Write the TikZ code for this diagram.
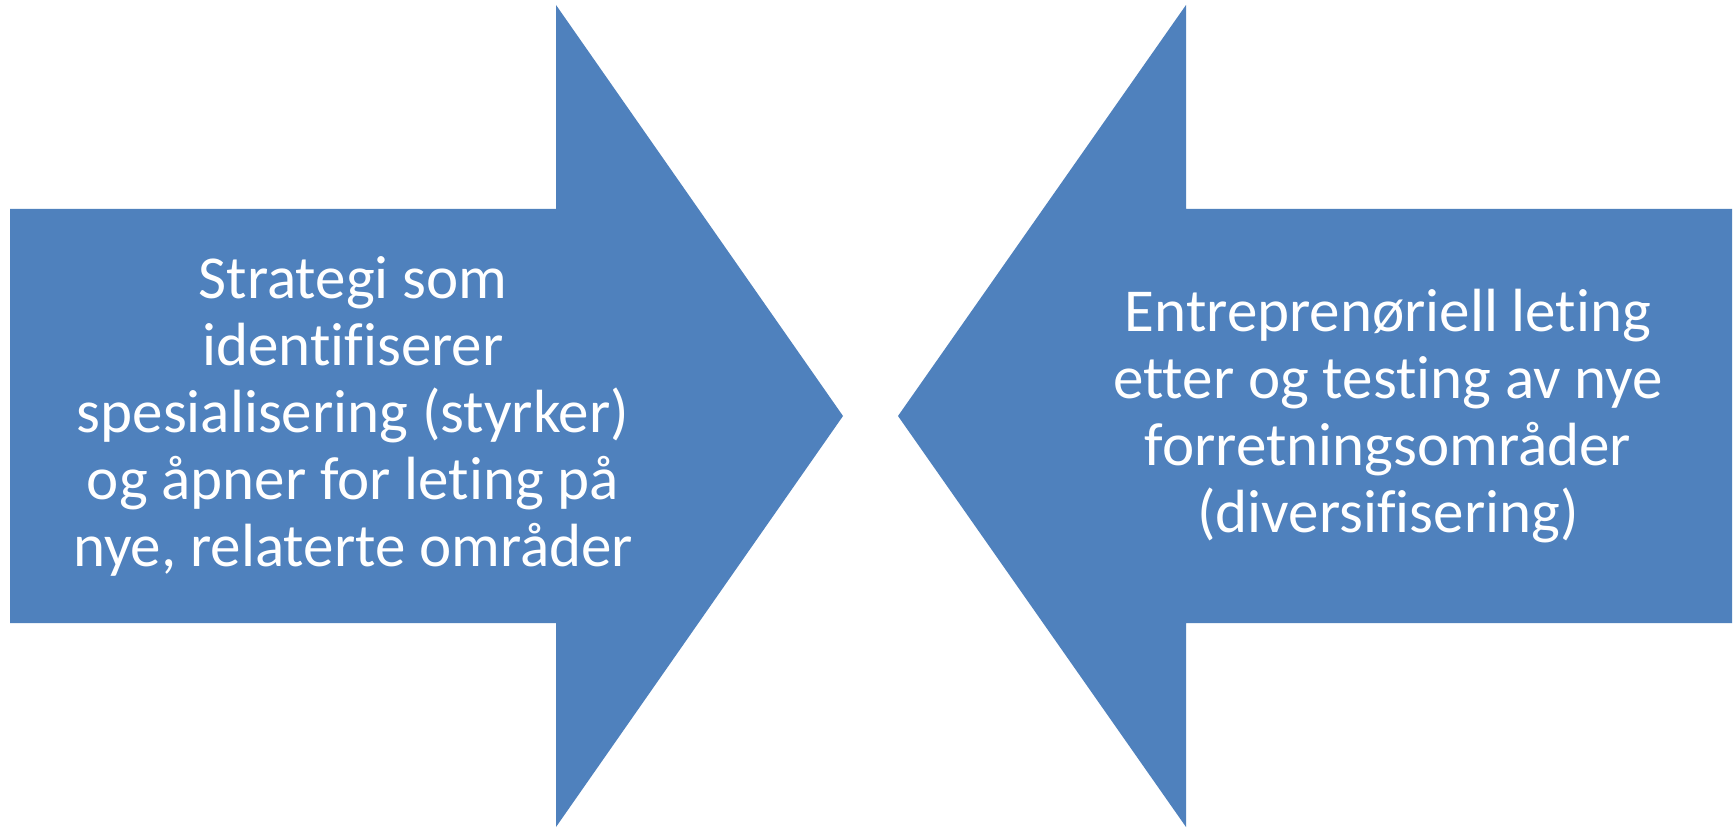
\documentclass[tikz,border=0pt]{standalone}
\usepackage{fontspec}
\setmainfont{Carlito}[Ligatures=NoCommon]
\definecolor{accentblue}{HTML}{4F81BD}
\tikzset{
  arrowshape/.style={fill=accentblue, draw=none},
  arrowtext/.style={text=white, align=center, font=\fontsize{30.5pt}{33.5pt}\selectfont, inner sep=0pt}
}
\begin{document}
\begin{tikzpicture}[x=0.5pt,y=-0.5pt]
\useasboundingbox (0,0) rectangle (1735,828);
\fill[white] (0,0) rectangle (1735,828);
% left arrow pointing right
\fill[arrowshape] (10,209) -- (556,209) -- (556,5) -- (843,416) -- (556,827) -- (556,623) -- (10,623) -- cycle;
% right arrow pointing left
\fill[arrowshape] (1732,209) -- (1186,209) -- (1186,5) -- (898,416) -- (1186,827) -- (1186,623) -- (1732,623) -- cycle;
\node[arrowtext] (lefttext) at (353,416) {Strategi som\\identifiserer\\spesialisering (styrker)\\og åpner for leting på\\nye, relaterte områder};
\node[arrowtext] (righttext) at (1388,416) {Entreprenøriell leting\\etter og testing av nye\\forretningsområder\\(diversifisering)};
\end{tikzpicture}
\end{document}
